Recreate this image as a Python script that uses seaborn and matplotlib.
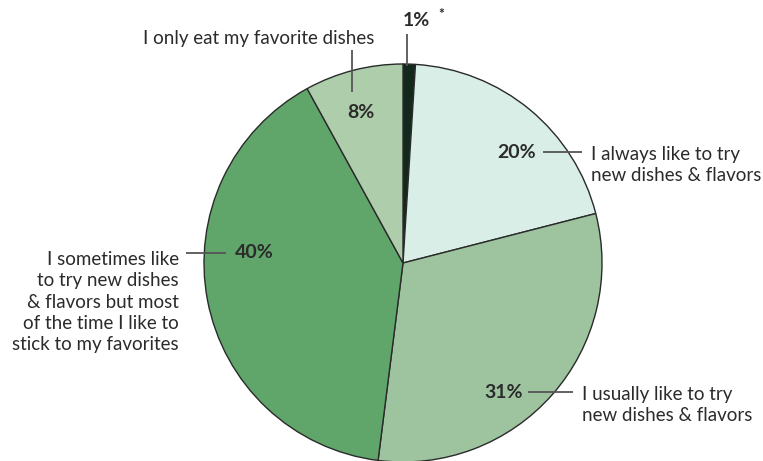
import matplotlib
matplotlib.use("Agg")
import matplotlib.pyplot as plt
import seaborn as sns

# data, clockwise from 12 o'clock
values = [1, 20, 31, 40, 8]
pct_labels = ["1%", "20%", "31%", "40%", "8%"]
answers = [
    "",
    "I always like to try\nnew dishes & flavors",
    "I usually like to try\nnew dishes & flavors",
    "I sometimes like\nto try new dishes\n& flavors but most\nof the time I like to\nstick to my favorites",
    "I only eat my favorite dishes",
]
colors = ["#11281b", "#d9eee7", "#9dc49f", "#60a66a", "#adcdab"]

sns.set_theme(style="white")
plt.rcParams["font.family"] = ["Lato", "DejaVu Sans"]

W, H = 763, 461
fig = plt.figure(figsize=(W / 100, H / 100), dpi=100)
ax = fig.add_axes([0, 0, 1, 1])

cx, cy, r = 403, 263, 199
ax.pie(values, colors=colors, startangle=90, counterclock=False,
       center=(cx, H - cy), radius=r, frame=True,
       wedgeprops=dict(edgecolor="#2a2a2a", linewidth=1.0))
ax.set_xlim(0, W)
ax.set_ylim(0, H)
ax.set_aspect("equal")
ax.axis("off")

txt = "#2b2b2b"
fs = 13.5
pfs = 14


def y(v):
    return H - v


def line(x0, y0, x1, y1):
    ax.plot([x0, x1], [y(y0), y(y1)], color="#555555", lw=1.3, solid_capstyle="butt")


# 1%
ax.text(403, y(20), pct_labels[0], fontsize=pfs, fontweight="bold", color=txt, va="center", ha="left")
ax.text(438, y(14), "*", fontsize=10, fontweight="bold", color=txt, va="center", ha="left")
line(407, 34, 407, 66)

# 8%
ax.text(259, y(38), answers[4], fontsize=fs, color=txt, ha="center", va="center")
line(352, 50, 352, 92)
ax.text(361, y(112), pct_labels[4], fontsize=pfs, fontweight="bold", color=txt, ha="center", va="center")

# 20%
ax.text(536, y(152), pct_labels[1], fontsize=pfs, fontweight="bold", color=txt, ha="right", va="center")
line(543, 152, 582, 152)
ax.text(591, y(165), answers[1], fontsize=fs, color=txt, ha="left", va="center", linespacing=1.3)

# 31%
ax.text(523, y(392), pct_labels[2], fontsize=pfs, fontweight="bold", color=txt, ha="right", va="center")
line(528, 392, 573, 392)
ax.text(582, y(405), answers[2], fontsize=fs, color=txt, ha="left", va="center", linespacing=1.3)

# 40%
ax.text(235, y(253), pct_labels[3], fontsize=pfs, fontweight="bold", color=txt, ha="left", va="center")
line(186, 253, 226, 253)
ax.text(179, y(302), answers[3], fontsize=fs, color=txt, ha="right", va="center",
        multialignment="right", linespacing=1.3)

fig.savefig("out.png", dpi=100, facecolor="white")
